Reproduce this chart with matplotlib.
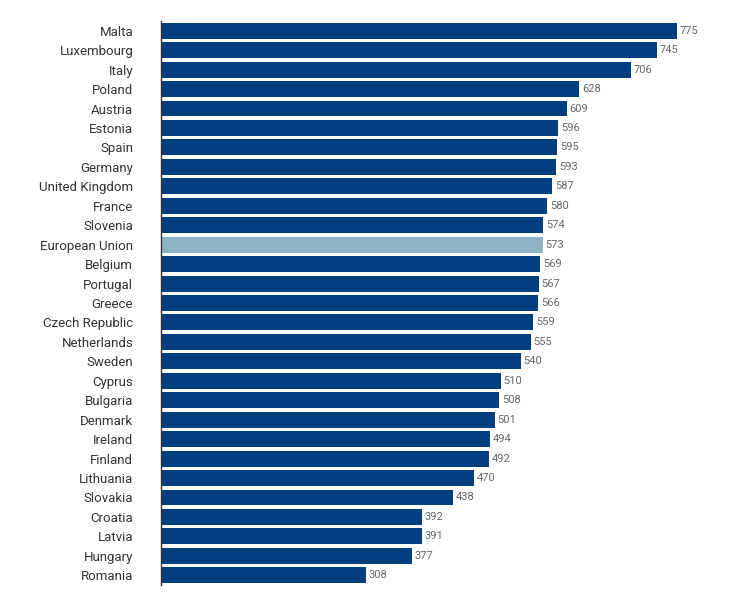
import matplotlib
matplotlib.use("Agg")
import matplotlib.pyplot as plt

countries = ["Malta", "Luxembourg", "Italy", "Poland", "Austria", "Estonia", "Spain",
             "Germany", "United Kingdom", "France", "Slovenia", "European Union",
             "Belgium", "Portugal", "Greece", "Czech Republic", "Netherlands", "Sweden",
             "Cyprus", "Bulgaria", "Denmark", "Ireland", "Finland", "Lithuania",
             "Slovakia", "Croatia", "Latvia", "Hungary", "Romania"]
values = [775, 745, 706, 628, 609, 596, 595, 593, 587, 580, 574, 573, 569, 567, 566,
          559, 555, 540, 510, 508, 501, 494, 492, 470, 438, 392, 391, 377, 308]

plt.rcParams['font.family'] = ['Roboto', 'DejaVu Sans']

fig = plt.figure(figsize=(7.36, 5.99), dpi=100)
ax = fig.add_axes([161/736, 1 - 585/599, 559/736, 564/599])

colors = ['#8db4c4' if c == "European Union" else '#003e7e' for c in countries]
y = list(range(len(countries)))
ax.barh(y, values, height=0.82, color=colors)
for yi, v in zip(y, values):
    ax.text(v + 4, yi, str(v), va='center', ha='left', fontsize=8, color='#666666')

ax.set_yticks(y)
ax.set_yticklabels(countries, fontsize=9.5, color='#333333')
ax.set_ylim(len(countries) - 0.5, -0.5)
ax.set_xlim(0, 839)
ax.set_xticks([])
ax.tick_params(axis='y', length=0, pad=20)
for s in ['top', 'right', 'bottom']:
    ax.spines[s].set_visible(False)
ax.spines['left'].set_color('#333333')
ax.spines['left'].set_linewidth(1)

fig.savefig("out.png", dpi=100)
